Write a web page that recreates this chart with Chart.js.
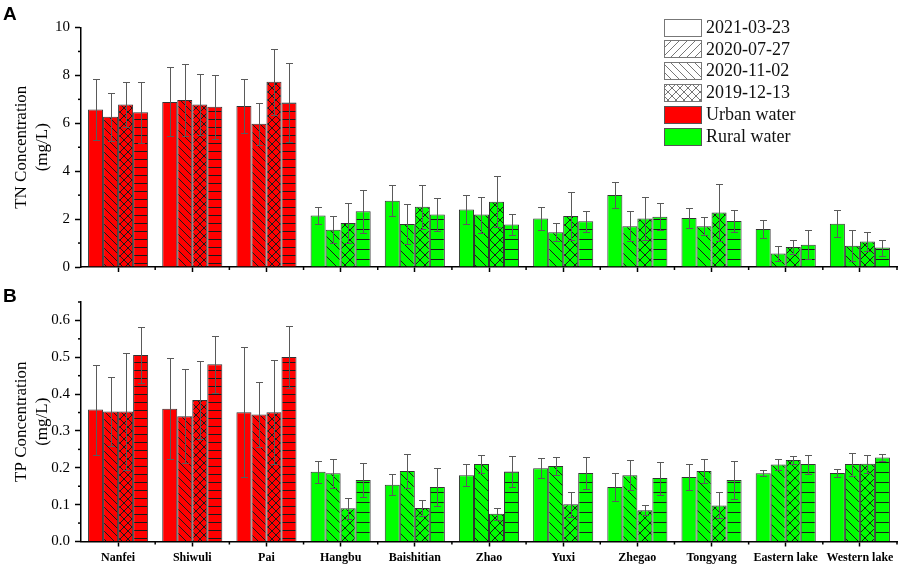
<!DOCTYPE html>
<html><head><meta charset="utf-8">
<script src="https://cdn.jsdelivr.net/npm/chart.js@4/dist/chart.umd.min.js"></script>
<style>
html,body{margin:0;padding:0;background:#fff;}
#wrap{position:relative;width:899px;height:566px;overflow:hidden;background:#fff;}
canvas{position:absolute;left:0;}
#cA{top:0}
#cB{top:283px}
.pl{position:absolute;left:3px;font:bold 19px 'Liberation Sans',Arial,sans-serif;line-height:19px;color:#000;}
</style></head>
<body><div id="wrap">
<canvas id="cA" width="899" height="283"></canvas>
<canvas id="cB" width="899" height="283"></canvas>
<div class="pl" style="top:4px">A</div>
<div class="pl" style="top:286px">B</div>
</div>
<script>
// ---------- data ----------
const categories = ['Nanfei','Shiwuli','Pai','Hangbu','Baishitian','Zhao','Yuxi','Zhegao','Tongyang','Eastern lake','Western lake'];
const waterType = ['urban','urban','urban','rural','rural','rural','rural','rural','rural','rural','rural'];
const seriesLabels = ['2021-03-23','2020-07-27','2020-11-02','2019-12-13'];

const tn1 = [6.58, 6.89, 6.72, 2.15, 2.77, 2.40, 2.03, 3.01, 2.05, 1.59, 1.81];
const tn2 = [6.27, 6.97, 5.98, 1.56, 1.80, 2.19, 1.45, 1.70, 1.70, 0.56, 0.89];
const tn3 = [6.79, 6.78, 7.74, 1.84, 2.52, 2.72, 2.13, 2.03, 2.28, 0.84, 1.06];
const tn4 = [6.46, 6.69, 6.87, 2.33, 2.19, 1.77, 1.91, 2.10, 1.92, 0.93, 0.81];
const tnErr1 = [1.27, 1.44, 1.12, 0.36, 0.66, 0.60, 0.48, 0.55, 0.42, 0.39, 0.57];
const tnErr2 = [1.01, 1.52, 0.87, 0.56, 0.85, 0.75, 0.37, 0.63, 0.38, 0.33, 0.64];
const tnErr3 = [0.95, 1.28, 1.38, 0.84, 0.92, 1.06, 0.99, 0.90, 1.19, 0.29, 0.40];
const tnErr4 = [1.28, 1.33, 1.66, 0.89, 0.68, 0.45, 0.43, 0.57, 0.44, 0.60, 0.33];

const tp1 = [0.358, 0.360, 0.351, 0.189, 0.154, 0.180, 0.199, 0.148, 0.175, 0.185, 0.186];
const tp2 = [0.353, 0.340, 0.345, 0.185, 0.191, 0.210, 0.205, 0.180, 0.191, 0.209, 0.210];
const tp3 = [0.353, 0.384, 0.351, 0.090, 0.091, 0.075, 0.101, 0.085, 0.098, 0.221, 0.211];
const tp4 = [0.506, 0.481, 0.501, 0.167, 0.148, 0.190, 0.186, 0.172, 0.167, 0.210, 0.228];
const tpErr1 = [0.122, 0.137, 0.176, 0.029, 0.029, 0.029, 0.027, 0.037, 0.036, 0.008, 0.012];
const tpErr2 = [0.094, 0.128, 0.088, 0.040, 0.047, 0.024, 0.024, 0.041, 0.032, 0.014, 0.031];
const tpErr3 = [0.158, 0.105, 0.142, 0.029, 0.022, 0.017, 0.034, 0.014, 0.035, 0.010, 0.025];
const tpErr4 = [0.077, 0.078, 0.085, 0.045, 0.051, 0.041, 0.043, 0.045, 0.051, 0.026, 0.010];

const legendLabels = ['2021-03-23','2020-07-27','2020-11-02','2019-12-13','Urban water','Rural water'];

// ---------- styles ----------
const typeColor = {urban:'#ff0000', rural:'#00ff00'};
const hatchSize = {urban:8, rural:10};
const barHatch = ['plain','back','cross','horiz'];
const legendHatch = ['plain','fwd','back','cross','urban','rural'];

function makePattern(ctx, bg, type, lineColor, s){
  const c = document.createElement('canvas'); c.width = s; c.height = s;
  const g = c.getContext('2d');
  g.fillStyle = bg; g.fillRect(0,0,s,s);
  g.strokeStyle = lineColor; g.lineWidth = 1;
  g.beginPath();
  if (type==='back' || type==='cross'){
    g.moveTo(-1,-1); g.lineTo(s+1,s+1);
    g.moveTo(-1,s-1); g.lineTo(1,s+1);
    g.moveTo(s-1,-1); g.lineTo(s+1,1);
  }
  if (type==='fwd' || type==='cross'){
    g.moveTo(-1,s+1); g.lineTo(s+1,-1);
    g.moveTo(-1,1); g.lineTo(1,-1);
    g.moveTo(s-1,s+1); g.lineTo(s+1,s-1);
  }
  if (type==='horiz'){
    g.moveTo(0,s-0.5); g.lineTo(s,s-0.5);
  }
  if (type!=='plain') g.stroke();
  return ctx.createPattern(c,'repeat');
}

function buildDatasets(ctx, seriesList, errList){
  return seriesList.map((vals,i)=>({
    label: seriesLabels[i],
    data: vals,
    errors: errList[i],
    backgroundColor: categories.map((_,j)=>{
      const t = waterType[j];
      return makePattern(ctx, typeColor[t], barHatch[i], '#1a1a1a', hatchSize[t]);
    }),
    borderColor: '#333',
    borderWidth: 1,
    categoryPercentage: 0.81,
    barPercentage: 1.0
  }));
}

const extras = {
  id:'extras',
  afterDatasetsDraw(chart){
    const ctx = chart.ctx, ys = chart.scales.y;
    ctx.save();
    ctx.strokeStyle = '#5a5a5a'; ctx.lineWidth = 1;
    chart.data.datasets.forEach((ds,i)=>{
      const meta = chart.getDatasetMeta(i);
      meta.data.forEach((bar,j)=>{
        const v = ds.data[j], e = ds.errors[j];
        const x = Math.round(bar.x)+0.5;
        const yt = Math.round(ys.getPixelForValue(v+e))+0.5;
        const yb = Math.round(ys.getPixelForValue(v-e))+0.5;
        ctx.beginPath();
        ctx.moveTo(x,yt); ctx.lineTo(x,yb);
        ctx.moveTo(x-3.5,yt); ctx.lineTo(x+3.5,yt);
        ctx.moveTo(x-3.5,yb); ctx.lineTo(x+3.5,yb);
        ctx.stroke();
      });
    });
    ctx.restore();
  },
  afterDraw(chart, args, opts){
    const ctx = chart.ctx, ys = chart.scales.y, xs = chart.scales.x, ca = chart.chartArea;
    ctx.save();
    ctx.strokeStyle = '#000'; ctx.lineWidth = 1.5;
    // minor y ticks
    const ms = opts.minorStep;
    for (let k=1; k*ms <= ys.max + 1e-9; k+=2){
      const y = ys.getPixelForValue(k*ms);
      ctx.beginPath(); ctx.moveTo(ca.left-3, y); ctx.lineTo(ca.left, y); ctx.stroke();
    }
    // minor x ticks at category boundaries
    const n = categories.length;
    for (let i=0;i<n;i++){
      const xb = i<n-1 ? (xs.getPixelForTick(i)+xs.getPixelForTick(i+1))/2 : ca.right;
      ctx.beginPath(); ctx.moveTo(xb, ca.bottom); ctx.lineTo(xb, ca.bottom+3); ctx.stroke();
    }
    // legend
    if (opts.legend){
      const x0 = 664.5, w = 37, h = 17;
      ctx.font = "18px 'Liberation Serif', 'Times New Roman', serif";
      ctx.textBaseline = 'middle'; ctx.textAlign = 'left';
      legendLabels.forEach((lab,i)=>{
        const cy = 27 + i*21.8;
        const y0 = Math.round(cy - h/2)+0.5;
        const t = legendHatch[i];
        let fill;
        if (t==='urban' || t==='rural') fill = typeColor[t];
        else fill = makePattern(ctx, '#fff', t, '#777', 8);
        ctx.fillStyle = fill; ctx.fillRect(x0, y0, w, h);
        ctx.strokeStyle = (t==='urban'||t==='rural') ? '#555' : '#777'; ctx.lineWidth = 1;
        ctx.strokeRect(x0, y0, w, h);
        ctx.fillStyle = '#111';
        ctx.fillText(lab, 706, cy+1);
      });
    }
    ctx.restore();
  }
};

function axisCommon(){
  return {
    ticks:{font:{family:"'Liberation Serif', 'Times New Roman', serif", size:15}, color:'#000', padding:5},
    grid:{drawOnChartArea:false, tickLength:6, tickColor:'#000', tickWidth:1.5},
    border:{color:'#000', width:1.5}
  };
}

function makeChart(id, seriesList, errList, cfg){
  const canvas = document.getElementById(id);
  const ctx = canvas.getContext('2d');
  const yc = axisCommon();
  return new Chart(ctx, {
    type:'bar',
    data:{ labels: categories, datasets: buildDatasets(ctx, seriesList, errList) },
    plugins:[extras],
    options:{
      responsive:false, animation:false, devicePixelRatio:1,
      events:[],
      layout:{padding:{top:cfg.padTop, right:2, left:0, bottom:0}},
      plugins:{ legend:{display:false}, tooltip:{enabled:false},
        extras:{minorStep:cfg.minorStep, legend:cfg.legend} },
      scales:{
        x:{
          type:'category', offset:true,
          grid:{drawOnChartArea:false, offset:false, tickLength:5, tickColor:'#000', tickWidth:1.5},
          border:{color:'#000', width:1.5},
          ticks:{display:cfg.xLabels, font:{family:"'Liberation Serif', 'Times New Roman', serif", size:12, weight:'bold'}, color:'#000', padding:4, maxRotation:0, autoSkip:false},
          afterFit(s){ s.height = cfg.xHeight; }
        },
        y:{
          min:0, max:cfg.yMax,
          ticks:Object.assign({}, yc.ticks, {stepSize:cfg.yStep, includeBounds:false, callback:cfg.fmt}),
          grid:yc.grid, border:yc.border,
          title:{display:true, text:cfg.title, color:'#000',
            font:{family:"'Liberation Serif', 'Times New Roman', serif", size:17, lineHeight:1.18},
            padding:{top:12, bottom:0}},
          afterFit(s){ s.width = 81; }
        }
      }
    }
  });
}

makeChart('cA', [tn1,tn2,tn3,tn4], [tnErr1,tnErr2,tnErr3,tnErr4], {
  padTop:27.5, xHeight:16, yMax:10, yStep:2, minorStep:1, legend:true, xLabels:false,
  fmt:v=>String(v), title:['TN Concentration','(mg/L)']
});
makeChart('cB', [tp1,tp2,tp3,tp4], [tpErr1,tpErr2,tpErr3,tpErr4], {
  padTop:19, xHeight:24.5, yMax:0.65, yStep:0.1, minorStep:0.05, legend:false, xLabels:true,
  fmt:v=>Number(v).toFixed(1), title:['TP Concentration','(mg/L)']
});
</script>
</body></html>
